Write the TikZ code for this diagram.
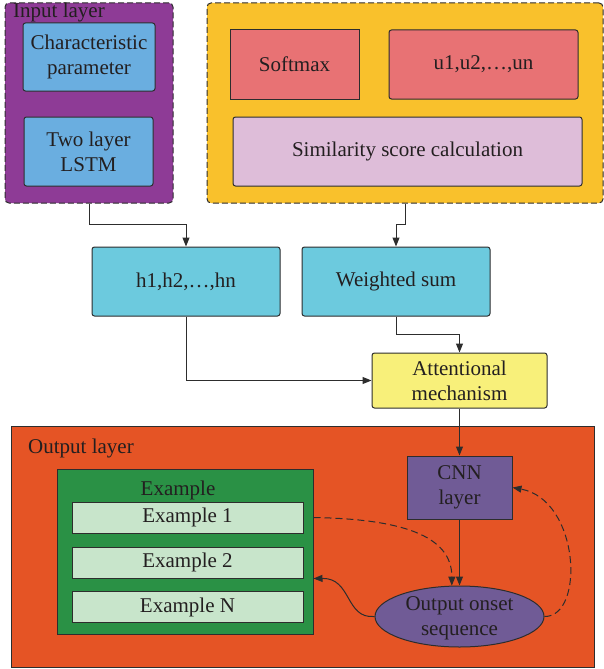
\documentclass[tikz,border=0pt]{standalone}
\usepackage{fontspec}
\setmainfont{Liberation Serif}
\usetikzlibrary{arrows.meta,shapes.geometric}

\definecolor{txt}{RGB}{35,31,32}
\definecolor{edge}{RGB}{45,45,45}
\definecolor{inpurple}{RGB}{142,59,150}
\definecolor{inblue}{RGB}{106,174,224}
\definecolor{attyellow}{RGB}{249,193,44}
\definecolor{softred}{RGB}{232,114,116}
\definecolor{simpink}{RGB}{222,189,217}
\definecolor{hcyan}{RGB}{108,202,222}
\definecolor{mechyellow}{RGB}{248,240,122}
\definecolor{outorange}{RGB}{229,84,37}
\definecolor{exgreen}{RGB}{42,145,69}
\definecolor{exlight}{RGB}{200,229,203}
\definecolor{cnnpurple}{RGB}{112,91,150}

\tikzset{
  every node/.style={font=\fontsize{21}{25}\selectfont, text=txt},
  box/.style={draw=edge, line width=1pt, rounded corners=2.5pt, align=center, inner sep=0pt},
  sharpbox/.style={draw=edge, line width=1pt, align=center, inner sep=0pt},
  group/.style={draw=edge, line width=1pt, dashed, dash pattern=on 6pt off 3pt, rounded corners=4pt, inner sep=0pt},
  arr/.style={draw=edge, line width=1pt, -{Triangle[length=9pt,width=7pt]}},
  darr/.style={arr, dash pattern=on 7pt off 4pt},
  lbl/.style={inner sep=0pt, anchor=base west}
}

\begin{document}
\begin{tikzpicture}[x=1pt, y=-1pt]
\useasboundingbox (0,0) rectangle (604,669);

% input layer group
\node[group, fill=inpurple, minimum width=168pt, minimum height=200pt] (inp) at (89,103) {};
\node[lbl] (inplbl) at (13,18) {Input layer};
\node[box, fill=inblue, minimum width=132pt, minimum height=68pt] (char) at (89,57) {Characteristic\\parameter};
\node[box, fill=inblue, minimum width=129pt, minimum height=69pt] (lstm) at (88.5,151.5) {Two layer\\LSTM};

% attention scoring group
\node[group, fill=attyellow, minimum width=396pt, minimum height=200pt] (ylw) at (405,103) {};
\node[sharpbox, fill=softred, minimum width=129pt, minimum height=69pt] (soft) at (294.5,64.5) {Softmax};
\node[box, fill=softred, minimum width=189pt, minimum height=69pt] (uvec) at (483.5,64.5) {u1,u2,…,un};
\node[box, fill=simpink, minimum width=349pt, minimum height=69pt] (sim) at (407.5,151.5) {Similarity score calculation};

% hidden states and weighted sum
\node[box, fill=hcyan, minimum width=188pt, minimum height=69pt] (h) at (186,281.5) {h1,h2,…,hn};
\node[box, fill=hcyan, minimum width=188pt, minimum height=69pt] (ws) at (396,281.5) {Weighted sum};
\node[box, fill=mechyellow, minimum width=175pt, minimum height=55pt] (att) at (459.5,380.5) {Attentional\\mechanism};

% output layer
\node[sharpbox, fill=outorange, minimum width=583pt, minimum height=241pt] (out) at (302.5,546.5) {};
\node[lbl] (outlbl) at (28,453) {Output layer};
\node[sharpbox, fill=exgreen, minimum width=256pt, minimum height=165pt] (green) at (185,551.5) {};
\node[inner sep=0pt, anchor=base] (exlbl) at (178,495) {Example};
\node[sharpbox, fill=exlight, minimum width=231pt, minimum height=31pt] (ex1) at (187.5,517.5) {Example 1};
\node[sharpbox, fill=exlight, minimum width=231pt, minimum height=31pt] (ex2) at (187.5,562.5) {Example 2};
\node[sharpbox, fill=exlight, minimum width=231pt, minimum height=31pt] (exN) at (187.5,607) {Example N};
\node[sharpbox, fill=cnnpurple, minimum width=105pt, minimum height=63pt] (cnn) at (459.5,487.5) {CNN\\layer};
\node[ellipse, draw=edge, line width=1pt, fill=cnnpurple, inner sep=0pt,
      minimum width=169pt, minimum height=61pt] (oos) at (459.5,616.5) {};
\node[align=center, inner sep=0pt] (oostxt) at (459.5,618.5) {Output onset\\sequence};

% connectors
\draw[arr] (inp.south) -- ++(0,21) -| (h.north);
\draw[arr] (ylw.south) -- ++(0,21) -| (ws.north);
\draw[arr] (ws.south) -- ++(0,18) -| (att.north);
\draw[arr] (h.south) |- (att.west);
\draw[arr] (att.south) -- (att.south |- cnn.north);
\draw[arr] (cnn.south) -- (cnn.south |- oos.north);
\draw[darr] (green.east |- ex1.east) .. controls (400,519) and (452,535) .. (oos.104);
\draw[darr] (oos.east) .. controls (585,617) and (580,500) .. (cnn.east);
\draw[arr] (oos.west) .. controls (345,619) and (352,578) .. (green.east |- ex2.south);
\end{tikzpicture}
\end{document}
